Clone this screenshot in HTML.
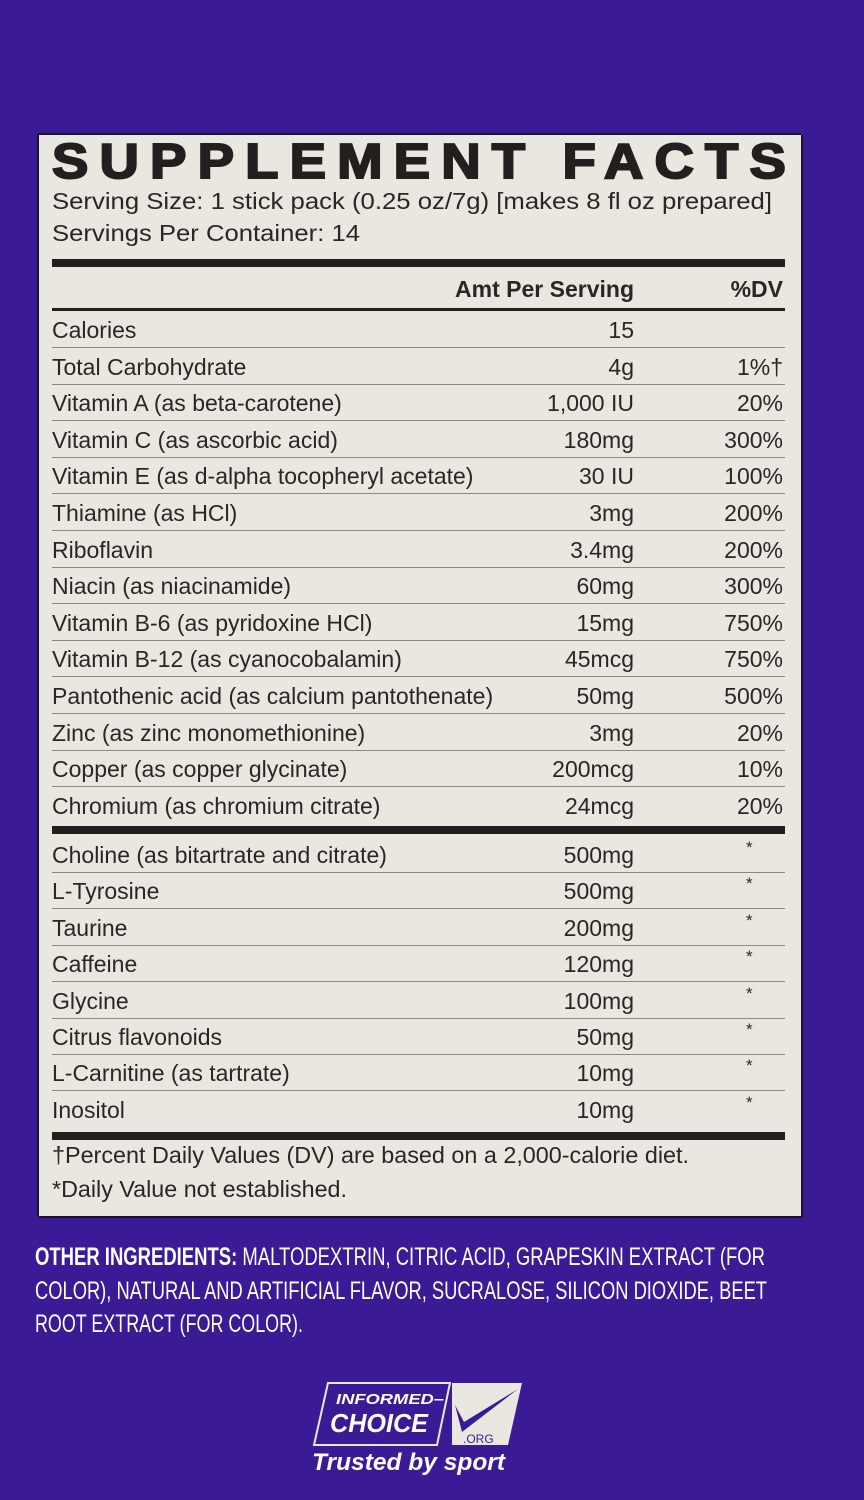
<!DOCTYPE html>
<html><head><meta charset="utf-8"><style>
body{margin:0;width:864px;height:1500px;background:#3a1b95;position:relative;overflow:hidden;font-family:"Liberation Sans",Arial,sans-serif}
#p{position:absolute;left:37px;top:133px;width:762px;height:1081px;background:#e9e7e0;border-left:2px solid #1a1030;border-top:2px solid #1a1030;box-shadow:2px 2px 0 #1a1030}
.t{position:absolute;color:#2a2626;font-size:23px;white-space:nowrap;line-height:1}
.r{position:absolute;left:52px;width:733px;height:0;border-top:1px solid #8a8680}
.k{position:absolute;left:52px;width:733px;background:#231f1f}
svg text{font-family:"Liberation Sans",Arial,sans-serif}
</style></head><body>
<div id="p"></div>
<svg width="864" height="1500" style="position:absolute;left:0;top:0">
<text x="52" y="178" font-size="49" font-weight="bold" fill="#231f1f" stroke="#231f1f" stroke-width="2" letter-spacing="10" textLength="745" lengthAdjust="spacingAndGlyphs">SUPPLEMENT FACTS</text>
<text x="52" y="209" font-size="23" fill="#2a2626" textLength="720" lengthAdjust="spacingAndGlyphs">Serving Size: 1 stick pack (0.25 oz/7g) [makes 8 fl oz prepared]</text>
<text x="52" y="241" font-size="23" fill="#2a2626" textLength="308" lengthAdjust="spacingAndGlyphs">Servings Per Container: 14</text>
<text x="634" y="297" font-size="23" font-weight="bold" fill="#2a2626" text-anchor="end">Amt Per Serving</text>
<text x="783" y="297" font-size="23" font-weight="bold" fill="#2a2626" text-anchor="end">%DV</text>
<text x="52" y="1163" font-size="23" fill="#2a2626" textLength="637" lengthAdjust="spacingAndGlyphs">†Percent Daily Values (DV) are based on a 2,000-calorie diet.</text>
<text x="52" y="1197" font-size="23" fill="#2a2626" textLength="295" lengthAdjust="spacingAndGlyphs">*Daily Value not established.</text>
<g fill="#fff" font-size="25">
<text x="35" y="1265" textLength="730" lengthAdjust="spacingAndGlyphs"><tspan font-weight="bold">OTHER INGREDIENTS:</tspan> MALTODEXTRIN, CITRIC ACID, GRAPESKIN EXTRACT (FOR</text>
<text x="35" y="1299" textLength="732" lengthAdjust="spacingAndGlyphs">COLOR), NATURAL AND ARTIFICIAL FLAVOR, SUCRALOSE, SILICON DIOXIDE, BEET</text>
<text x="35" y="1332" textLength="268" lengthAdjust="spacingAndGlyphs">ROOT EXTRACT (FOR COLOR).</text>
</g>
<g>
<polygon points="328,1383 450,1383 437,1445 314,1445" fill="none" stroke="#e9e7e0" stroke-width="2"/>
<polygon points="452,1383 522,1383 508,1445 452,1445" fill="#e9e7e0"/>
<polygon points="455,1405 462,1432 518,1389 464,1422" fill="#3a1b95"/>
<text x="336" y="1404" font-size="15" font-weight="bold" font-style="italic" fill="#fff" textLength="108" lengthAdjust="spacingAndGlyphs">INFORMED–</text>
<text x="330" y="1432" font-size="26" font-weight="bold" font-style="italic" fill="#fff" textLength="98" lengthAdjust="spacingAndGlyphs">CHOICE</text>
<text x="463" y="1443" font-size="12" fill="#3a1b95">.ORG</text>
<text x="312" y="1470" font-size="24" font-weight="bold" font-style="italic" fill="#fff" textLength="193" lengthAdjust="spacingAndGlyphs">Trusted by sport</text>
</g>
</svg>
<div class="k" style="top:259px;height:8px"></div>
<div class="k" style="top:308px;height:3px"></div>
<div class="k" style="top:826px;height:8px"></div>
<div class="k" style="top:1132px;height:8px"></div>
<div id="rows"></div>
<script>
var a=[["Calories","15",""],["Total Carbohydrate","4g","1%†"],["Vitamin A (as beta-carotene)","1,000 IU","20%"],["Vitamin C (as ascorbic acid)","180mg","300%"],["Vitamin E (as d-alpha tocopheryl acetate)","30 IU","100%"],["Thiamine (as HCl)","3mg","200%"],["Riboflavin","3.4mg","200%"],["Niacin (as niacinamide)","60mg","300%"],["Vitamin B-6 (as pyridoxine HCl)","15mg","750%"],["Vitamin B-12 (as cyanocobalamin)","45mcg","750%"],["Pantothenic acid (as calcium pantothenate)","50mg","500%"],["Zinc (as zinc monomethionine)","3mg","20%"],["Copper (as copper glycinate)","200mcg","10%"],["Chromium (as chromium citrate)","24mcg","20%"]];
var b=[["Choline (as bitartrate and citrate)","500mg"],["L-Tyrosine","500mg"],["Taurine","200mg"],["Caffeine","120mg"],["Glycine","100mg"],["Citrus flavonoids","50mg"],["L-Carnitine (as tartrate)","10mg"],["Inositol","10mg"]];
var h="";
a.forEach(function(r,i){var c=330+i*36.6;
h+='<div class="t" style="left:52px;top:'+(c-11)+'px">'+r[0]+'</div><div class="t" style="right:230px;top:'+(c-11)+'px">'+r[1]+'</div><div class="t" style="right:81px;top:'+(c-11)+'px">'+r[2]+'</div>';
if(i<13)h+='<div class="r" style="top:'+(c+17)+'px"></div>';});
b.forEach(function(r,i){var c=855+i*36.4;
h+='<div class="t" style="left:52px;top:'+(c-11)+'px">'+r[0]+'</div><div class="t" style="right:230px;top:'+(c-11)+'px">'+r[1]+'</div><div class="t" style="left:746px;top:'+(c-16)+'px;font-size:17px">*</div>';
if(i<7)h+='<div class="r" style="top:'+(c+17)+'px"></div>';});
document.getElementById("rows").innerHTML=h;
</script>
</body></html>
